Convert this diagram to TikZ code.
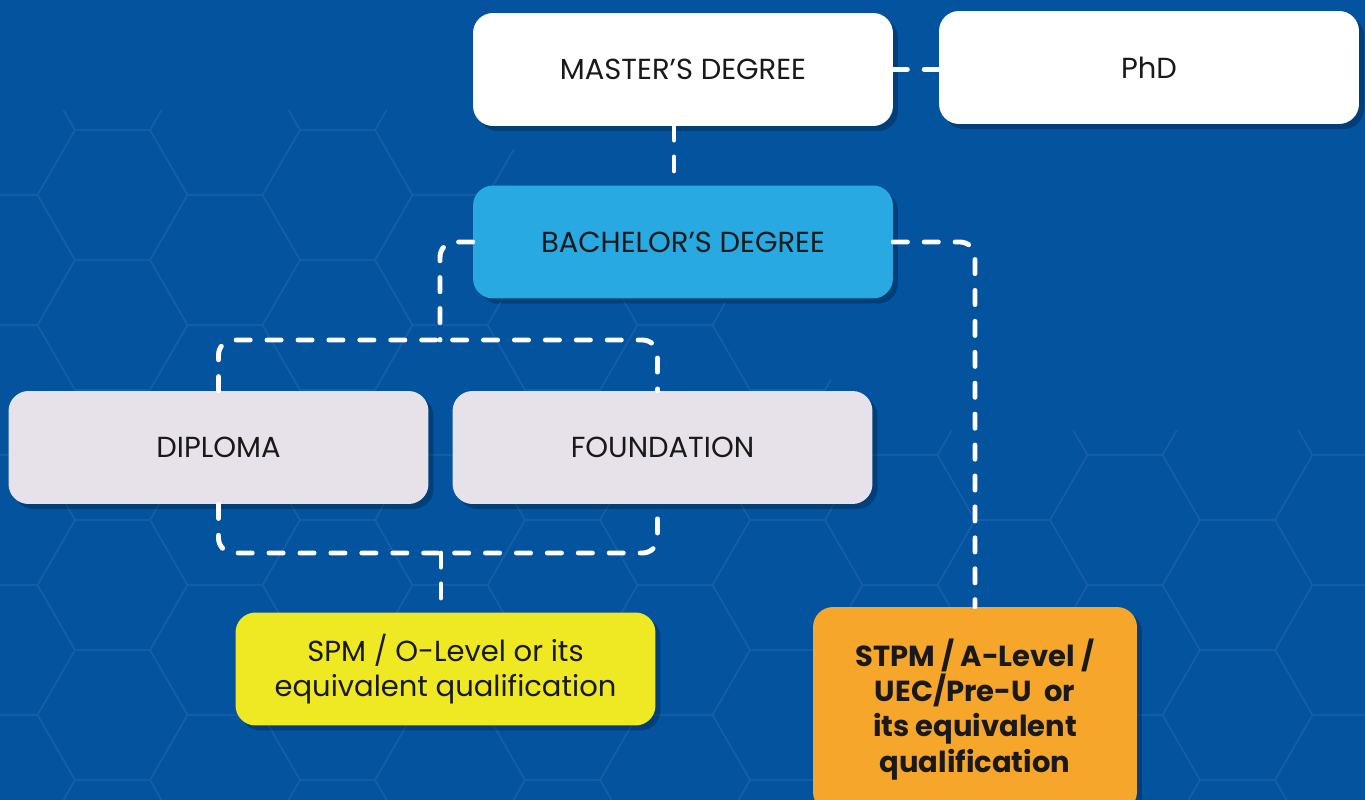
\documentclass[tikz,border=0pt]{standalone}
\usepackage{fontspec}
\setmainfont{Poppins}
\usetikzlibrary{positioning,shadows}

\definecolor{bgblue}{HTML}{04539F}
\definecolor{bachblue}{HTML}{29A9E1}
\definecolor{lavender}{HTML}{E7E2E9}
\definecolor{spmyellow}{HTML}{EEE923}
\definecolor{stpmorange}{HTML}{F6A62A}

\begin{document}
\begin{tikzpicture}[x=0.02cm,y=-0.02cm,
                    level node/.style={rounded corners=0.4cm,minimum width=8.4cm,minimum height=2.26cm,
                      align=center,text=black!90,font=\fontsize{16.5}{20}\selectfont,
                      drop shadow={shadow xshift=0.1cm,shadow yshift=-0.1cm,opacity=0.25,fill=black}},
                    link/.style={draw=white,line width=2.8pt,line cap=round,dash pattern=on 8pt off 9.6pt,rounded corners=0.3cm},
                    hexline/.style={draw=bgblue!93!white,line width=0.8pt}]

  \useasboundingbox (0,0) rectangle (1365,800);

  % backdrop with the faint honeycomb
  \fill[bgblue] (0,0) rectangle (1365,800);
  \begin{scope}
    \clip (0,110) -- (460,110) -- (900,430) -- (1365,430) -- (1365,800) -- (0,800) -- cycle;
    \foreach \i in {0,...,13}
      \foreach \j in {0,...,7}
        \draw[hexline,shift={({\i*112.5},{\j*130+mod(\i,2)*65})}]
          (75,0) -- (37.5,65) -- (-37.5,65) -- (-75,0) -- (-37.5,-65) -- (37.5,-65) -- cycle;
  \end{scope}

  \node[level node,fill=white] (master) at (683,69.5) {MASTER’S DEGREE};
  \node[level node,fill=white] (phd) at (1149,67.5) {PhD};
  \node[level node,fill=bachblue] (bachelor) at (683,242) {BACHELOR’S DEGREE};
  \node[level node,fill=lavender] (diploma) at (218.5,447.5) {DIPLOMA};
  \node[level node,fill=lavender] (foundation) at (662.5,447.5) {FOUNDATION};
  \node[level node,fill=spmyellow] (spm) at (445.5,669) {SPM / O-Level or its\\equivalent qualification};
  \node[level node,fill=stpmorange,minimum width=6.48cm,minimum height=4.1cm,
        font=\bfseries\fontsize{16.5}{20}\selectfont] (stpm) at (975,709.5)
        {STPM / A-Level /\\UEC/Pre-U\ \ or\\its equivalent\\qualification};

  \coordinate (top split) at (440,340);
  \coordinate (bottom split) at (441,553);
  \coordinate (master foot) at (674,126);

  \path[link] (master.east) -- (master.east -| phd.west);
  \path[link] (master foot) -- (master foot |- bachelor.north);
  \path[link] (bachelor.west) -| (top split);
  \path[link] (diploma.north) |- (top split) -| ([xshift=-0.1cm]foundation.north);
  \path[link] (bachelor.east) -| (stpm.north);
  \path[link] (diploma.south) |- (bottom split) -| ([xshift=-0.1cm]foundation.south);
  \path[link] (bottom split) -- (bottom split |- spm.north);

\end{tikzpicture}
\end{document}
